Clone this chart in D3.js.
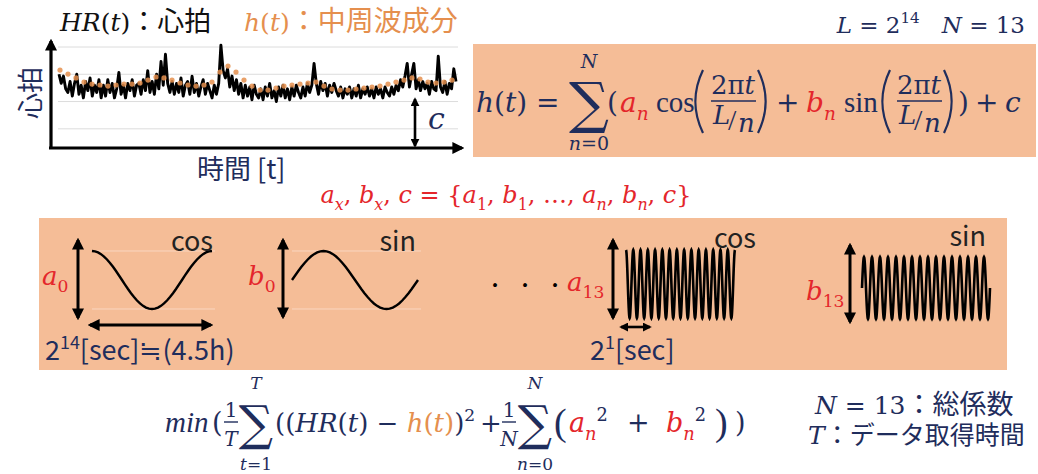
<!DOCTYPE html>
<html><head><meta charset="utf-8">
<script src="https://cdn.jsdelivr.net/npm/d3@7"></script>
<style>body{margin:0;background:#fff}svg{display:block}</style>
</head><body>
<script>
// ---- data ----
const hrValues = [85,80,84,77,
 75,81,73,80,85,74,79,72,81,76,83,73,79,75,82,72,
 79,73,82,75,80,72,77,86,74,79,72,80,76,82,73,79,
 80,74,82,76,87,75,81,74,85,77,92,79,96,80,75,
 81,74,80,75,83,73,79,81,74,84,75,80,73,78,82,74,80,76,72,79,74,80,
 101,87,83,
 88,78,84,76,82,74,80,72,79,73,78,71,79,74,72,
 77,71,78,73,80,72,76,70,78,73,79,72,77,71,78,73,79,75,72,78,73,80,75,
 79,91,80,74,81,76,80,73,79,75,80,76,
 73,78,72,77,74,78,72,77,73,79,72,77,74,78,73,77,72,78,74,77,72,78,75,73,78,74,79,
 76,82,78,84,91,78,85,91,77,82,76,81,77,
 80,74,81,77,76,95,78,75,81,74,80,77,88,81];
const hValues = [87.3,85.1,83,80.7,79.6,79.1,78.5,79.1,79.6,79.6,
 80.2,81.8,83.5,83,81.8,80.2,79.1,78.5,79.1,80.7,
 86.2,89.5,86.2,81.8,78.5,76.3,76.3,77.4,78.5,79.1,
 79.6,80.2,80.7,78.5,76.9,76.3,76.3,76.9,77.4,78,
 78.5,79.6,80.7,81.8,83,82.4,80.7,80.2,80.7,81.8];
const gridValues = [55,70,85,100];
const waveKinds = ["cos","sin","cos","sin"];
const waveCycles = [1,1,15,16];
const waveCoefs = [["a","0"],["b","0"],["a","13"],["b","13"]];

// ---- styles ----
const NAVY="#1f2d5c", RED="#e4262b", ORANGE="#e58f4e", BOX="#f5bd97";
const SERIF="'DejaVu Serif', serif";
const TIMES="'Liberation Serif', serif";
const SANS="'Noto Sans CJK JP', 'Noto Sans', sans-serif";

const svg = d3.select("body").append("svg").attr("width",1038).attr("height",474);
const defs = svg.append("defs");
[["ah",12],["ahs",9]].forEach(([id,s])=>{
  defs.append("marker").attr("id",id).attr("viewBox","0 0 10 10").attr("refX",8).attr("refY",5)
    .attr("markerUnits","userSpaceOnUse").attr("markerWidth",s).attr("markerHeight",s)
    .attr("orient","auto-start-reverse").append("path").attr("d","M0,0L10,5L0,10Z").attr("fill","#000");
});

function math(parent, x, y, size, parts, anchor){
  const t = parent.append("text").attr("x",x).attr("y",y).attr("font-size",size)
    .attr("text-anchor",anchor||"start").attr("xml:space","preserve");
  let off = 0;
  parts.forEach(p=>{
    const str=p[0], o=p[1]||{};
    const target = o.sub ? size*0.28 : o.sup ? -size*0.42 : (o.dy||0);
    const ts = t.append("tspan").text(str).attr("dy", target-off);
    off = target;
    ts.attr("font-size", (o.sub||o.sup) ? size*0.66 : (o.fs||size))
      .attr("font-family", o.sans ? SANS : o.times ? TIMES : SERIF)
      .attr("font-style", o.i ? "italic" : "normal")
      .attr("fill", o.c || NAVY);
  });
  return t;
}
function arrowLine(x1,y1,x2,y2,w,both,small){
  const m = small ? "url(#ahs)" : "url(#ah)";
  const l = svg.append("line").attr("x1",x1).attr("y1",y1).attr("x2",x2).attr("y2",y2)
    .attr("stroke","#000").attr("stroke-width",w).attr("marker-end",m);
  if(both) l.attr("marker-start",m);
}
function paren(x,top,bot,left){
  const w=9, mid=(top+bot)/2;
  const d = left ? `M${x+w},${top} Q${x-w*0.7},${mid} ${x+w},${bot}` : `M${x},${top} Q${x+w*1.7},${mid} ${x},${bot}`;
  svg.append("path").attr("d",d).attr("fill","none").attr("stroke",NAVY).attr("stroke-width",2.2);
}
function sigma(cx,base,size,upper,lower,uy,ly,ls){
  svg.append("text").attr("x",cx).attr("y",base).attr("text-anchor","middle").attr("font-family",SERIF)
    .attr("font-size",size).attr("fill",NAVY).text("∑");
  math(svg,cx,uy,ls,upper,"middle");
  math(svg,cx,ly,ls,lower,"middle");
}

// ---- top-left HR chart ----
const x = d3.scaleLinear().domain([0,hrValues.length-1]).range([59,456]);
const xh = d3.scaleLinear().domain([0,hValues.length-1]).range([60,452]);
const y = d3.scaleLinear().domain([45,100]).range([147,47]);
svg.append("g").selectAll("line").data(gridValues).join("line")
  .attr("x1",58).attr("x2",458).attr("y1",d=>y(d)).attr("y2",d=>y(d))
  .attr("stroke","#dcdcdc").attr("stroke-width",1);
svg.append("path").datum(hrValues).attr("fill","none").attr("stroke","#000").attr("stroke-width",2.9)
  .attr("stroke-linejoin","round")
  .attr("d", d3.line().x((d,i)=>x(i)).y(d=>y(d)));
svg.append("g").selectAll("circle").data(hValues).join("circle")
  .attr("cx",(d,i)=>xh(i)).attr("cy",d=>y(d)).attr("r",2.6).attr("fill",ORANGE).attr("opacity",0.85);
arrowLine(51,149,51,41,3.2,false);
arrowLine(49,148,462,148,3.2,false);
arrowLine(415,99,415,146,2.6,true,true);
math(svg,428,129,30,[["c",{i:true}]]);
svg.append("text").attr("transform","translate(40,93) rotate(-90)").attr("text-anchor","middle")
  .attr("font-family",SANS).attr("font-size",26).attr("fill",NAVY).text("心拍");
svg.append("text").attr("x",197).attr("y",179).attr("font-family",SANS).attr("font-size",27)
  .attr("fill",NAVY).text("時間 [t]");
math(svg,60,31,25,[["HR",{i:true,c:"#111"}],["(",{c:"#111"}],["t",{i:true,c:"#111"}],[")",{c:"#111"}],
  ["：心拍",{sans:true,c:"#111",fs:27}]]);
math(svg,244,31,25,[["h",{i:true,c:ORANGE}],["(",{c:ORANGE}],["t",{i:true,c:ORANGE}],[")",{c:ORANGE}],["：中周波成分",{sans:true,c:ORANGE,fs:28}]]);

// ---- top-right formula box ----
svg.append("rect").attr("x",473).attr("y",44).attr("width",563).attr("height",113).attr("fill",BOX);
math(svg,1025,33,23,[["L",{i:true}],[" = 2"],["14",{sup:true}],["   "],["N",{i:true}],[" = 13"]],"end");
math(svg,476,112,28,[["h",{i:true}],["("],["t",{i:true}],[")"],[" ="]]);
sigma(589,122,56,[["N",{i:true}]],[["n",{i:true}],["=0"]],68,150,19);
math(svg,607,112,28,[["("]]);
math(svg,620,112,28,[["a",{i:true,c:RED}],["n",{i:true,sub:true,c:RED}]]);
math(svg,656,112,29,[["cos",{times:true}]]);
function frac(cx,x1,x2){
  math(svg,cx,94,26,[["2π"],["t",{i:true}]],"middle");
  svg.append("line").attr("x1",x1).attr("x2",x2).attr("y1",101).attr("y2",101).attr("stroke",NAVY).attr("stroke-width",1.6);
  math(svg,cx-20,124,26,[["L",{i:true}]]);
  math(svg,cx-5,130,30,[["/",{times:true}]]);
  math(svg,cx+5,132,26,[["n",{i:true}]]);
}
paren(694,70,133,true); frac(733,711,756); paren(758,70,133,false);
math(svg,776,112,28,[["+"]]);
math(svg,806,112,28,[["b",{i:true,c:RED}],["n",{i:true,sub:true,c:RED}]]);
math(svg,844,112,29,[["sin",{times:true}]]);
paren(881,70,133,true); frac(919,897,942); paren(944,70,133,false);
math(svg,958,112,28,[[")"]]);
math(svg,975,112,28,[["+"]]);
math(svg,1005,112,28,[["c",{i:true}]]);

// ---- red coefficient set ----
math(svg,506,203,24,[["a",{i:true,c:RED}],["x",{i:true,sub:true,c:RED}],[", ",{c:RED}],["b",{i:true,c:RED}],["x",{i:true,sub:true,c:RED}],
 [", ",{c:RED}],["c",{i:true,c:RED}],[" = {",{c:RED}],["a",{i:true,c:RED}],["1",{sub:true,c:RED}],[", ",{c:RED}],
 ["b",{i:true,c:RED}],["1",{sub:true,c:RED}],[", …, ",{c:RED}],["a",{i:true,c:RED}],["n",{i:true,sub:true,c:RED}],[", ",{c:RED}],
 ["b",{i:true,c:RED}],["n",{i:true,sub:true,c:RED}],[", ",{c:RED}],["c",{i:true,c:RED}],["}",{c:RED}]],"middle");

// ---- basis function box ----
svg.append("rect").attr("x",39).attr("y",218).attr("width",968).attr("height",152).attr("fill",BOX);
const cards = [
  {x0:92,x1:212,top:251,bot:309,ax:78,aTop:240,aBot:318,lx:42,ly:285,tx:213,ty:251,sw:2.4},
  {x0:292,x1:418,top:251,bot:309,ax:283,aTop:240,aBot:317,lx:248,ly:285,tx:416,ty:251,sw:2.4},
  {x0:626,x1:735,top:250,bot:318,ax:613,aTop:240,aBot:318,lx:567,ly:291,tx:756,ty:248,sw:2.6},
  {x0:862,x1:990,top:257,bot:319,ax:850,aTop:245,aBot:322,lx:806,ly:300,tx:986,ty:246,sw:2.6}
];
cards.forEach((c,k)=>{
  const kind = waveKinds[k], cyc = waveCycles[k];
  if(k<2){
    [c.top,c.bot].forEach(yy=>svg.append("line").attr("x1",c.x0).attr("x2",c.x1+3).attr("y1",yy).attr("y2",yy)
      .attr("stroke","#fad6c0").attr("stroke-width",1));
  }
  const tx = d3.scaleLinear().domain([0,1]).range([c.x0,c.x1]);
  const ty = d3.scaleLinear().domain([-1,1]).range([c.bot,c.top]);
  const pts = d3.range(0,1.0001,1/(cyc*40));
  const f = kind==="cos" ? t=>Math.cos(2*Math.PI*cyc*t) : t=>Math.sin(2*Math.PI*cyc*t);
  svg.append("path").datum(pts).attr("fill","none").attr("stroke","#000").attr("stroke-width",c.sw)
    .attr("d",d3.line().x(t=>tx(t)).y(t=>ty(f(t))));
  arrowLine(c.ax,c.aBot,c.ax,c.aTop,3,true);
  math(svg,c.lx,c.ly,26,[[waveCoefs[k][0],{i:true,c:RED}],[waveCoefs[k][1],{sub:true,c:RED}]]);
  svg.append("text").attr("x",c.tx).attr("y",c.ty).attr("text-anchor","end").attr("font-family",SANS)
    .attr("font-size",27).attr("fill","#222").text(kind);
});
arrowLine(90,325,211,325,3,true);
arrowLine(621,327,650,327,2.6,true,true);
math(svg,45,360,27,[["2",{sans:true}],["14",{sup:true,sans:true}],["[sec]≒(4.5h)",{sans:true}]]);
math(svg,590,360,27,[["2",{sans:true}],["1",{sup:true,sans:true}],["[sec]",{sans:true}]]);
[495,525,555].forEach(dx=>svg.append("text").attr("x",dx).attr("y",295).attr("text-anchor","middle")
  .attr("font-family",SERIF).attr("font-size",30).attr("fill","#000").text("·"));

// ---- bottom objective formula ----
math(svg,165,432,29,[["min",{i:true,times:true}]]);
math(svg,212,432,27,[["("]]);
math(svg,231,417,20,[["1"]],"middle");
svg.append("line").attr("x1",224).attr("x2",238).attr("y1",422).attr("y2",422).attr("stroke",NAVY).attr("stroke-width",1.4);
math(svg,231,446,20,[["T",{i:true}]],"middle");
sigma(256,440,48,[["T",{i:true}]],[["t",{i:true}],["=1"]],389,470,17);
math(svg,275,432,26,[["(("],["HR",{i:true}],["("],["t",{i:true}],[")"],[" − "],["h",{i:true,c:ORANGE}],["(",{c:ORANGE}],
  ["t",{i:true,c:ORANGE}],[")",{c:ORANGE}],[")"],["2",{sup:true}]]);
math(svg,480,432,26,[["+"]]);
math(svg,509,417,20,[["1"]],"middle");
svg.append("line").attr("x1",502).attr("x2",516).attr("y1",422).attr("y2",422).attr("stroke",NAVY).attr("stroke-width",1.4);
math(svg,509,446,20,[["N",{i:true}]],"middle");
sigma(535,440,48,[["N",{i:true}]],[["n",{i:true}],["=0"]],389,470,17);
math(svg,554,435,38,[["(",{times:true}]]);
math(svg,569,432,27,[["a",{i:true,c:RED}],["n",{i:true,sub:true,c:RED}],["2",{sup:true}]]);
math(svg,627,432,27,[["+"]]);
math(svg,666,432,27,[["b",{i:true,c:RED}],["n",{i:true,sub:true,c:RED}],["2",{sup:true}]]);
math(svg,715,435,38,[[")",{times:true}]]);
math(svg,735,432,27,[[")"]]);
math(svg,815,414,25,[["N",{i:true}],[" = 13"],["：総係数",{sans:true,fs:27}]]);
math(svg,808,444,25,[["T",{i:true}],["：データ取得時間",{sans:true}]]);
</script>
</body></html>
